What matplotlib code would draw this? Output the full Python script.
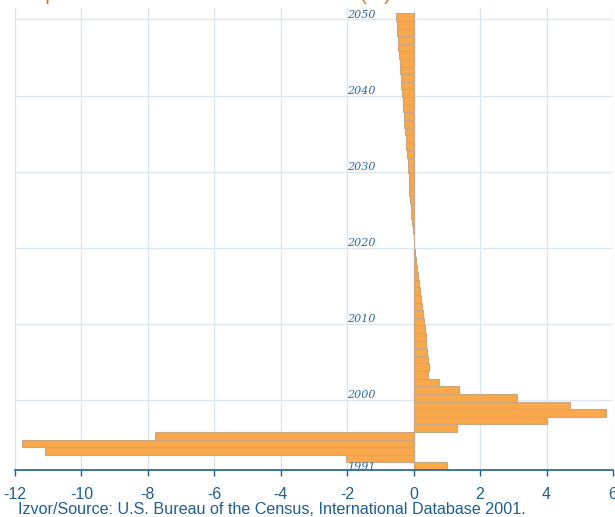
import matplotlib.pyplot as plt
import numpy as np

# Podaci - stopa rasta po godinama (%)
godine = np.arange(1991, 2051)
stopa = [
    1.0, -2.05, -11.1, -11.8, -7.8, 1.3, 4.0, 5.8, 4.7, 3.1,          # 1991-2000
    1.36, 0.76, 0.44, 0.45, 0.43, 0.41, 0.38, 0.36, 0.33, 0.31,      # 2001-2010
    0.28, 0.25, 0.22, 0.19, 0.16, 0.13, 0.10, 0.07, 0.04, 0.02,      # 2011-2020
    0.0, -0.02, -0.05, -0.07, -0.09, -0.11, -0.13, -0.14, -0.15, -0.17,   # 2021-2030
    -0.18, -0.20, -0.22, -0.23, -0.26, -0.28, -0.29, -0.31, -0.33, -0.35,  # 2031-2040
    -0.37, -0.38, -0.40, -0.42, -0.43, -0.46, -0.47, -0.50, -0.51, -0.54,  # 2041-2050
]
oznake_godina = [1991, 2000, 2010, 2020, 2030, 2040, 2050]
x_ticks = [-12, -10, -8, -6, -4, -2, 0, 2, 4, 6]

naslov = 'Stopa rasta stanovništva – Growth rate (%)'
izvor = 'Izvor/Source: U.S. Bureau of the Census, International Database 2001.'

# Boje
plava = '#1d5f8e'
narandzasta = '#F9A84A'
mreza = '#dce6f0'

fig = plt.figure(figsize=(6.15, 5.17), dpi=100)
ax = fig.add_axes([0.0244, 0.0909, 0.9723, 0.8936])

# Mreza
for x in x_ticks:
    ax.axvline(x, color=mreza, lw=1, zorder=0)
for g in oznake_godina[1:]:
    ax.axhline(g - 0.3, color=mreza, lw=1, zorder=0)

# Stubici
ax.barh(godine, stopa, height=1.0, color=narandzasta, edgecolor='#c9a683',
        linewidth=0.8, zorder=2)

# Oznake godina
for g in oznake_godina:
    y = g - 0.1 if g == 1991 else g + 0.3
    ax.text(-2.0, y, str(g), ha='left', va='center', fontsize=8,
            family='DejaVu Serif', style='italic', color='#2a6a9e', zorder=3)

ax.set_xlim(-12, 6)
ax.set_ylim(1990.5, 2051.2)
ax.set_xticks(x_ticks)
ax.set_xticklabels([str(x) for x in x_ticks])
ax.set_yticks([])

for s in ['left', 'right', 'top']:
    ax.spines[s].set_visible(False)
ax.spines['bottom'].set_color(plava)
ax.spines['bottom'].set_linewidth(1.2)
ax.tick_params(axis='x', colors=plava, length=4, width=1, pad=8,
               labelsize=11.5)
for t in ax.get_xticklabels():
    t.set_family('Liberation Sans')

# Naslov (odsjecen na vrhu) i izvor
fig.text(16 / 615, 1.0 + 0.5 / 517, naslov, ha='left', va='baseline',
         fontsize=14, family='Liberation Sans', color='#c8781e')
fig.text(18 / 615, 1 - 510 / 517, izvor, ha='left', va='center',
         fontsize=11.6, family='Liberation Sans', color=plava)

fig.savefig('out.png', dpi=100)
